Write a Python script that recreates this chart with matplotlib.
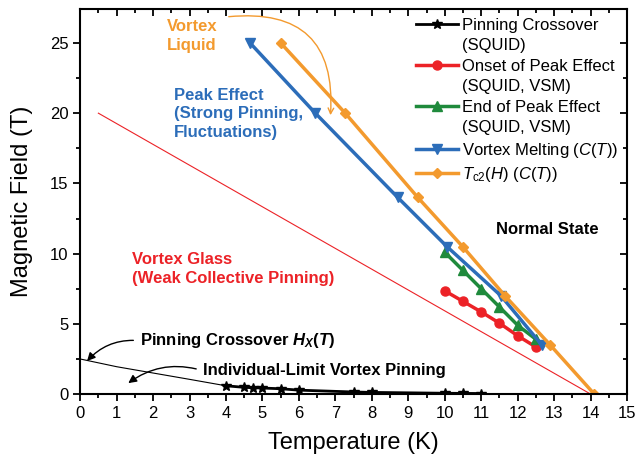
import matplotlib
matplotlib.use("Agg")
import matplotlib.pyplot as plt
from matplotlib.lines import Line2D
from matplotlib.ticker import MultipleLocator

plt.rcParams["font.family"] = ["Liberation Sans", "DejaVu Sans"]
plt.rcParams["mathtext.fontset"] = "custom"
plt.rcParams["mathtext.rm"] = "Liberation Sans"
plt.rcParams["mathtext.it"] = "Liberation Sans:italic"
plt.rcParams["mathtext.bf"] = "Liberation Sans:bold"
plt.rcParams["mathtext.bfit"] = "Liberation Sans:italic:bold"

# Pinning crossover (SQUID), stars
t_cross = [4.0, 4.5, 4.75, 5.0, 5.5, 6.0, 7.5, 8.0, 10.0, 10.5, 11.0]
h_cross = [0.59, 0.48, 0.45, 0.43, 0.38, 0.28, 0.15, 0.12, 0.06, 0.05, 0.04]
# thin crossover guide line H_X(T) at low temperature
t_guide = [0.0, 1.0, 2.0, 3.0, 4.0]
h_guide = [2.5, 1.95, 1.5, 1.05, 0.59]

# onset of peak effect
t_onset = [10.0, 10.5, 11.0, 11.5, 12.0, 12.5]
h_onset = [7.35, 6.6, 5.85, 5.05, 4.15, 3.35]

# end of peak effect
t_end = [10.0, 10.5, 11.0, 11.5, 12.0, 12.5]
h_end = [10.1, 8.8, 7.5, 6.2, 4.9, 3.9]

# vortex melting
t_melt = [4.66, 6.45, 8.71, 10.06, 11.54, 12.66]
h_melt = [25.0, 20.0, 14.0, 10.5, 7.0, 3.5]

# Tc2(H)
t_c2 = [5.5, 7.27, 9.26, 10.49, 11.65, 12.89, 14.1]
h_c2 = [25.0, 20.0, 14.0, 10.5, 7.0, 3.5, 0.0]

# thin red glass line
t_glass = [0.5, 14.0]
h_glass = [20.0, 0.0]

ORANGE = "#F39A2E"
BLUE = "#2C6DB9"
RED = "#EC2227"
GREEN = "#1F8A3C"

fig = plt.figure(figsize=(6.36, 4.62), dpi=100)
ax = fig.add_axes([0.126, 0.147, 0.86, 0.833])

ax.plot(t_glass, h_glass, color=RED, lw=0.8)
ax.plot(t_guide, h_guide, color="black", lw=0.8)
ax.plot(t_cross, h_cross, color="black", lw=2, marker="*", ms=7)
ax.plot(t_onset, h_onset, color=RED, lw=2.5, marker="o", ms=6.5)
ax.plot(t_end, h_end, color=GREEN, lw=2.5, marker="^", ms=7)
ax.plot(t_melt, h_melt, color=BLUE, lw=2.5, marker="v", ms=7)
ax.plot(t_c2, h_c2, color=ORANGE, lw=2.5, marker="D", ms=5.5)

ax.set_xlim(0, 15)
ax.set_ylim(0, 27.4)
ax.xaxis.set_major_locator(MultipleLocator(1))
ax.xaxis.set_minor_locator(MultipleLocator(0.5))
ax.yaxis.set_major_locator(MultipleLocator(5))
ax.yaxis.set_minor_locator(MultipleLocator(2.5))
ax.tick_params(which="both", direction="out", width=1.3, labelsize=12)
ax.tick_params(which="major", length=5)
ax.tick_params(which="minor", length=3)
ax.tick_params(which="both", top=True, right=True, labeltop=False, labelright=False)
for s in ax.spines.values():
    s.set_linewidth(1.5)
# top/right ticks point inward
for tick in ax.xaxis.get_major_ticks() + ax.xaxis.get_minor_ticks():
    tick.tick2line.set_marker(3)
for tick in ax.yaxis.get_major_ticks() + ax.yaxis.get_minor_ticks():
    tick.tick2line.set_marker(0)

ax.set_xlabel("Temperature (K)", fontsize=17, labelpad=8)
ax.set_ylabel("Magnetic Field (T)", fontsize=17, labelpad=12)

# legend, one blank row per second label line
blank = Line2D([], [], color="none")
handles = [
    Line2D([], [], color="black", lw=2, marker="*", ms=7), blank,
    Line2D([], [], color=RED, lw=2.5, marker="o", ms=6.5), blank,
    Line2D([], [], color=GREEN, lw=2.5, marker="^", ms=7), blank,
    Line2D([], [], color=BLUE, lw=2.5, marker="v", ms=7),
    Line2D([], [], color=ORANGE, lw=2.5, marker="D", ms=5.5),
]
labels = [
    "Pinning Crossover", "(SQUID)",
    "Onset of Peak Effect", "(SQUID, VSM)",
    "End of Peak Effect", "(SQUID, VSM)",
    "Vortex Melting ($C$($T$))",
    "$T_{\\rm c2}$($H$) ($C$($T$))",
]
ax.legend(handles, labels, loc="upper left", bbox_to_anchor=(0.614, 0.978),
          frameon=False, fontsize=12, handlelength=2.5, handletextpad=0.25,
          labelspacing=0.33, borderpad=0, borderaxespad=0)

bold = dict(fontsize=12, fontweight="bold", ha="left", va="center")
ax.text(2.39, 25.5, "Vortex\nLiquid", color=ORANGE, linespacing=1.35, **bold)
ax.text(2.58, 19.95, "Peak Effect\n(Strong Pinning,\nFluctuations)", color=BLUE,
        linespacing=1.3, **bold)
ax.text(1.42, 8.9, "Vortex Glass\n(Weak Collective Pinning)", color=RED,
        linespacing=1.3, **bold)
ax.text(11.4, 11.7, "Normal State", color="black", **bold)

ax.annotate("", xy=(6.86, 19.66), xytext=(4.0, 26.85),
            arrowprops=dict(arrowstyle="->", color=ORANGE, lw=1,
                            connectionstyle="arc3,rad=-0.6"))
ax.annotate("Pinning Crossover $\\mathbfit{H}_{\\mathbfit{X}}$($\\mathbfit{T}$)",
            xy=(0.19, 2.35), xytext=(1.65, 3.8), color="black",
            arrowprops=dict(arrowstyle="-|>", color="black", lw=1,
                            relpos=(0, 0.5), shrinkA=3, shrinkB=0,
                            connectionstyle="arc3,rad=0.25"),
            **bold)
ax.annotate("Individual-Limit Vortex Pinning", xy=(1.32, 0.78), xytext=(3.37, 1.66),
            color="black",
            arrowprops=dict(arrowstyle="-|>", color="black", lw=1,
                            relpos=(0, 0.5), shrinkA=3, shrinkB=0,
                            connectionstyle="arc3,rad=0.25"),
            **bold)

fig.savefig("out.png", dpi=100)
